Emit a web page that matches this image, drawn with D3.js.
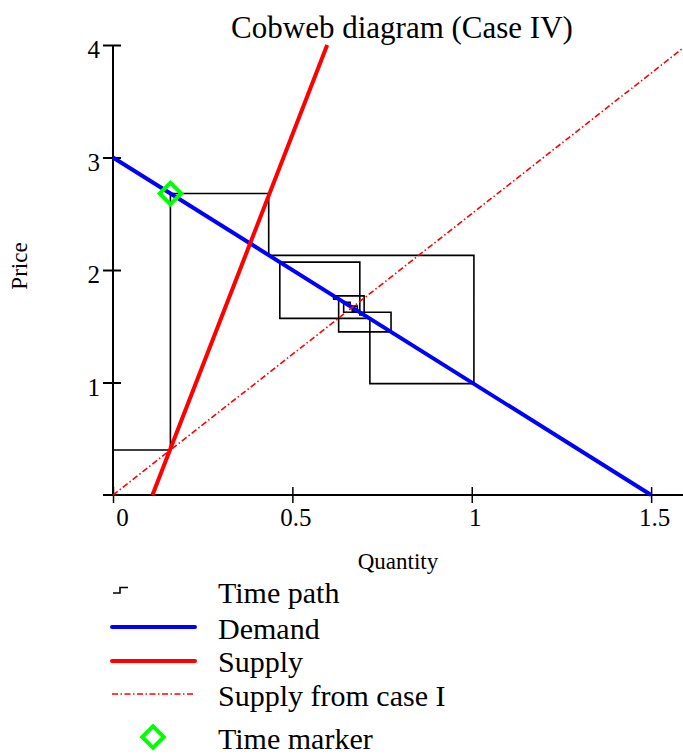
<!DOCTYPE html>
<html>
<head>
<meta charset="utf-8">
<script src="https://cdn.jsdelivr.net/npm/d3@7"></script>
<style>
  body { margin: 0; background: #fff; }
  text { font-family: "Liberation Serif", "Times New Roman", serif; fill: #000; }
</style>
</head>
<body>
<svg id="chart" width="683" height="756"></svg>
<script>
// time path (quantity, price)
const pathQ = [0, 0.16, 0.434, 1.006, 0.716, 0.465, 0.688, 0.775, 0.629, 0.615, 0.70, 0.688, 0.643, 0.661, 0.681, 0.667];
const pathP = [0.4, 2.68, 2.13, 0.99, 1.57, 2.07, 1.625, 1.45, 1.74, 1.77, 1.60, 1.625, 1.714, 1.679, 1.637, 1.667];
const demandQ = [0, 1.5];
const demandP = [3, 0];
const supplyQ = [0.11, 0.597];
const supplyP = [0, 4];
const supplyIQ = [0, 1.6];
const supplyIP = [0, 4];
const markerQ = [0.16];
const markerP = [2.68];
const xTicks = [0, 0.5, 1, 1.5];
const yTicks = [1, 2, 3, 4];
const legendLabels = ["Time path", "Demand", "Supply", "Supply from case I", "Time marker"];

const svg = d3.select("#chart");
const x = d3.scaleLinear().domain([0, 1.6]).range([113, 687]);
const y = d3.scaleLinear().domain([0, 4]).range([495, 45]);

const zip = (qs, ps) => qs.map((q, i) => [q, ps[i]]);
const line = d3.line().x((d) => x(d[0])).y((d) => y(d[1]));
const serif = "Liberation Serif, Times New Roman, serif";

// axes
svg.append("line").attr("x1", 103).attr("x2", 683).attr("y1", y(0)).attr("y2", y(0))
  .attr("stroke", "#000").attr("stroke-width", 2);
svg.append("line").attr("x1", x(0)).attr("x2", x(0)).attr("y1", y(4)).attr("y2", y(0))
  .attr("stroke", "#000").attr("stroke-width", 2);

const xAxis = svg.append("g").attr("transform", `translate(0,${y(0)})`)
  .call(d3.axisBottom(x).tickValues(xTicks).tickFormat(d3.format("")).tickSize(8))
  .attr("font-family", serif).attr("font-size", 25);
xAxis.select(".domain").remove();
xAxis.selectAll(".tick line").attr("y1", -8).attr("y2", 8).attr("stroke-width", 1.5);
xAxis.selectAll(".tick text")
  .attr("y", 13).attr("dy", "0.71em")
  .attr("dx", (d) => (d === 0 ? 9 : 3))
  .style("font-family", serif).style("font-size", "25px");

const yAxis = svg.append("g").attr("transform", `translate(${x(0)},0)`)
  .call(d3.axisLeft(y).tickValues(yTicks).tickFormat(d3.format("d")).tickSize(10))
  .attr("font-family", serif).attr("font-size", 25);
yAxis.select(".domain").remove();
yAxis.selectAll(".tick line").attr("x1", -10).attr("x2", 8).attr("stroke-width", 2);
yAxis.selectAll(".tick text")
  .attr("x", -13).attr("dy", "0.5em")
  .style("font-family", serif).style("font-size", "25px");

// series
svg.append("path").datum(zip(pathQ, pathP))
  .attr("d", line.curve(d3.curveStepAfter))
  .attr("fill", "none").attr("stroke", "#000").attr("stroke-width", 1.6);
line.curve(d3.curveLinear);

svg.append("path").datum(zip(demandQ, demandP)).attr("d", line)
  .attr("fill", "none").attr("stroke", "#0000ff").attr("stroke-width", 4);
svg.append("path").datum(zip(supplyQ, supplyP)).attr("d", line)
  .attr("fill", "none").attr("stroke", "#ff0000").attr("stroke-width", 4);
svg.append("path").datum(zip(supplyIQ, supplyIP)).attr("d", line)
  .attr("fill", "none").attr("stroke", "#ff0000").attr("stroke-width", 1.6)
  .attr("stroke-dasharray", "6,2.5,1.5,2.5");

svg.selectAll(".marker").data(zip(markerQ, markerP)).join("path")
  .attr("transform", (d) => `translate(${x(d[0])},${y(d[1])}) rotate(45)`)
  .attr("d", d3.symbol().type(d3.symbolSquare).size(230))
  .attr("fill", "none").attr("stroke", "#00ff00").attr("stroke-width", 4);

// titles
svg.append("text").attr("x", 402).attr("y", 38).attr("text-anchor", "middle")
  .style("font-size", "31px").text("Cobweb diagram (Case IV)");
svg.append("text").attr("x", 398).attr("y", 569).attr("text-anchor", "middle")
  .style("font-size", "23px").text("Quantity");
svg.append("text").attr("transform", "translate(27,266) rotate(-90)").attr("text-anchor", "middle")
  .style("font-size", "23px").text("Price");

// legend
const legY = [603, 639, 672, 706, 749];
const leg = svg.append("g");
legendLabels.forEach((t, i) => {
  leg.append("text").attr("x", 218).attr("y", legY[i]).style("font-size", "30px").text(t);
});
leg.append("path").attr("d", "M113,593H120V587.5H128")
  .attr("fill", "none").attr("stroke", "#000").attr("stroke-width", 1.6);
leg.append("line").attr("x1", 112).attr("x2", 195).attr("y1", 627).attr("y2", 627)
  .attr("stroke", "#0000ff").attr("stroke-width", 4).attr("stroke-linecap", "round");
leg.append("line").attr("x1", 112).attr("x2", 195).attr("y1", 661).attr("y2", 661)
  .attr("stroke", "#ff0000").attr("stroke-width", 4).attr("stroke-linecap", "round");
leg.append("line").attr("x1", 112).attr("x2", 195).attr("y1", 694).attr("y2", 694)
  .attr("stroke", "#ff0000").attr("stroke-width", 1.6).attr("stroke-dasharray", "6,2.5,1.5,2.5");
leg.append("path").attr("transform", "translate(153,737) rotate(45)")
  .attr("d", d3.symbol().type(d3.symbolSquare).size(230))
  .attr("fill", "none").attr("stroke", "#00ff00").attr("stroke-width", 4);
</script>
</body>
</html>
